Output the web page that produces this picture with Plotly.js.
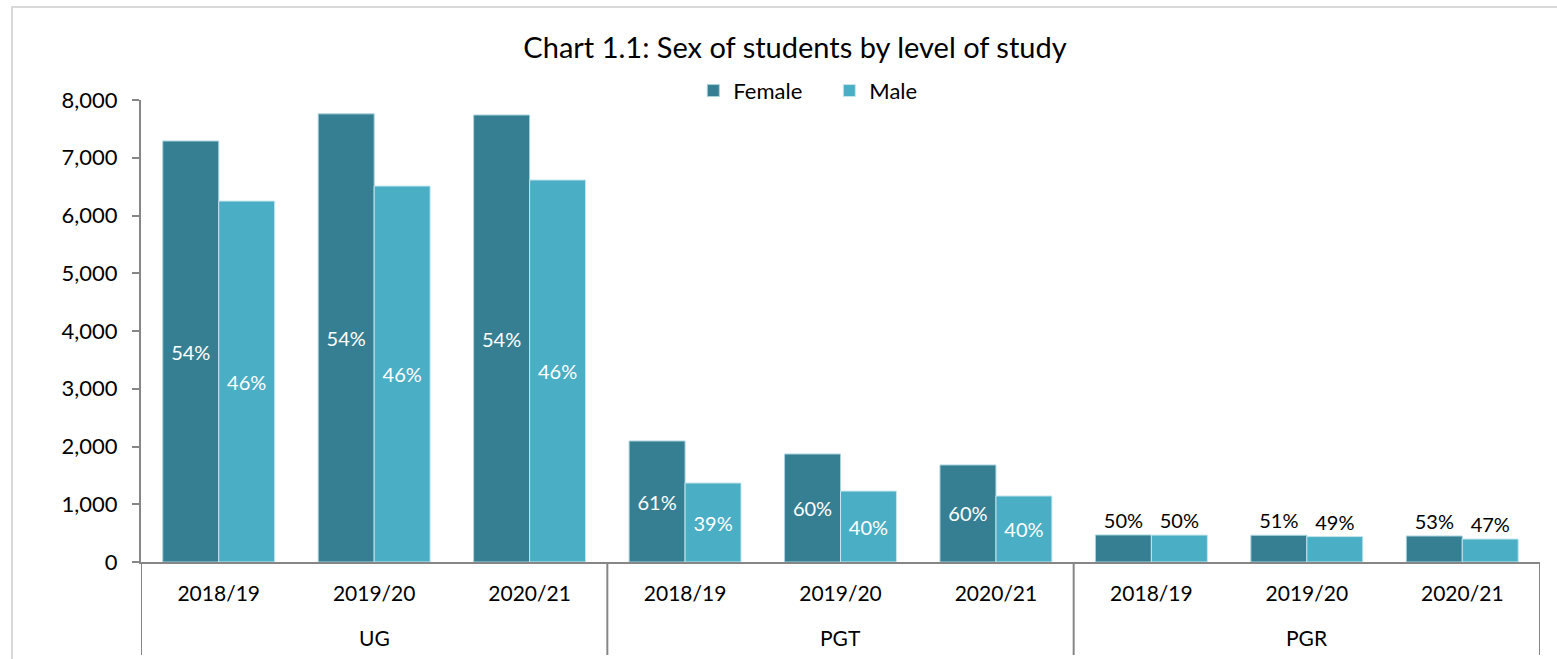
<!DOCTYPE html>
<html>
<head>
<meta charset="utf-8">
<script src="https://cdn.plot.ly/plotly-3.0.1.min.js"></script>
<style>html,body{margin:0;padding:0;background:#fff;}#chart{width:1557px;height:659px;}</style>
</head>
<body>
<div id="chart"></div>
<script>
// Data
const levels = ["UG","UG","UG","PGT","PGT","PGT","PGR","PGR","PGR"];
const years = ["2018/19","2019/20","2020/21","2018/19","2019/20","2020/21","2018/19","2019/20","2020/21"];
const female = [7290, 7760, 7740, 2095, 1870, 1680, 468, 462, 450];
const male = [6250, 6510, 6615, 1368, 1228, 1143, 466, 440, 398];
const femaleLabels = ["54%","54%","54%","61%","60%","60%","50%","51%","53%"];
const maleLabels = ["46%","46%","46%","39%","40%","40%","50%","49%","47%"];

const FONT = "Lato, 'Open Sans', sans-serif";
const xKeys = levels.map((l, i) => l + " " + years[i]);
const pos = levels.map(l => l === "PGR" ? "outside" : "inside");

// group boundaries and centres from the levels array
const groups = [];
levels.forEach((l, i) => {
  if (!groups.length || groups[groups.length - 1].name !== l) groups.push({name: l, start: i, end: i});
  else groups[groups.length - 1].end = i;
});
const PLOT_H = 462;
const dividerBottom = -(655 - 562) / PLOT_H;
const groupLabelY = -(637 - 562) / PLOT_H;

const shapes = [{
  type: "rect", xref: "paper", yref: "paper",
  x0: (12 - 141) / 1399, x1: 1.05, y0: -0.5, y1: (562 - 7) / PLOT_H,
  line: {color: "#d9d9d9", width: 2}, fillcolor: "rgba(0,0,0,0)", layer: "below"
}];
const bounds = [groups[0].start - 0.5].concat(groups.map(g => g.end + 0.5));
bounds.forEach(b => shapes.push({
  type: "line", xref: "x", yref: "paper", x0: b, x1: b, y0: 0, y1: dividerBottom,
  line: {color: "#868686", width: 2}
}));
const annotations = groups.map(g => ({
  xref: "x", yref: "paper", x: (g.start + g.end) / 2, y: groupLabelY,
  text: g.name, showarrow: false, yanchor: "middle", xanchor: "center",
  font: {family: FONT, size: 21, color: "#000000"}
}));

const common = {
  type: "bar", x: xKeys, insidetextanchor: "middle", textposition: pos,
  insidetextfont: {color: "#ffffff", size: 20, family: FONT},
  outsidetextfont: {color: "#000000", size: 20, family: FONT},
  hoverinfo: "none", cliponaxis: false
};
const traces = [
  Object.assign({}, common, {name: "Female", y: female, text: femaleLabels,
    marker: {color: "#367f93", line: {color: "#a9d3dd", width: 1}}}),
  Object.assign({}, common, {name: "Male", y: male, text: maleLabels,
    marker: {color: "#4aaec4", line: {color: "#c5e6ee", width: 1}}})
];

const layout = {
  width: 1557, height: 659,
  margin: {l: 141, r: 17, t: 100, b: 97},
  paper_bgcolor: "#ffffff", plot_bgcolor: "#ffffff",
  font: {family: FONT, size: 21, color: "#000000"},
  title: {
    text: "Chart 1.1: Sex of students by level of study",
    font: {family: FONT, size: 29, color: "#000000"},
    xref: "container", x: 0.5106, xanchor: "center",
    yref: "container", y: 1 - 48/659, yanchor: "middle"
  },
  barmode: "group", bargap: 0.28, bargroupgap: 0,
  showlegend: true,
  legend: {
    orientation: "h", x: 0.492, xanchor: "center", y: 1.02, yanchor: "middle",
    font: {family: FONT, size: 22, color: "#000000"},
    itemwidth: 30, entrywidth: 91, entrywidthmode: "pixels", traceorder: "normal"
  },
  xaxis: {
    type: "category", categoryorder: "array", categoryarray: xKeys,
    tickvals: xKeys, ticktext: years,
    range: [-0.5, xKeys.length - 0.5],
    showline: true, linecolor: "#868686", linewidth: 2,
    ticks: "", showgrid: false, zeroline: false, ticklabelstandoff: 12,
    tickfont: {family: FONT, size: 21, color: "#000000"}
  },
  yaxis: {
    range: [0, 8000], dtick: 1000, tickformat: ",",
    showline: true, linecolor: "#868686", linewidth: 2,
    ticks: "outside", ticklen: 7, tickcolor: "#868686", tickwidth: 2,
    ticklabelstandoff: 10,
    showgrid: false, zeroline: false,
    tickfont: {family: FONT, size: 22, color: "#000000"}
  },
  shapes: shapes,
  annotations: annotations
};

Plotly.newPlot("chart", traces, layout, {displayModeBar: false, staticPlot: true});
</script>
</body>
</html>
